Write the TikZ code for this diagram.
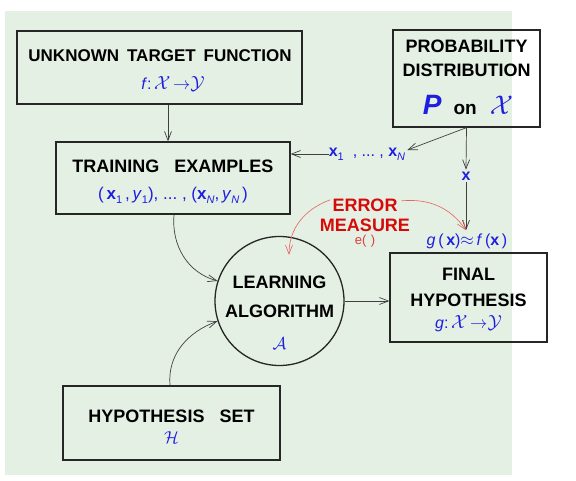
\documentclass[tikz,border=0pt]{standalone}
\usepackage{fontspec}
\setmainfont{Liberation Sans}
\usetikzlibrary{arrows.meta,calc}
\definecolor{bgc}{RGB}{228,240,227}
\definecolor{myblue}{RGB}{30,30,225}
\definecolor{myred}{RGB}{215,10,10}
\definecolor{arcred}{RGB}{232,95,95}
\newcommand{\lowsub}[1]{\raisebox{-4pt}{\fontsize{11}{11}\selectfont #1}}
\newcommand{\bigcal}[2]{\scalebox{#1}{$\mathcal{#2}$}}
\tikzset{
  box/.style={draw=black!85, line width=1.3pt, inner sep=0pt},
  ttl/.style={font=\fontsize{18}{20}\selectfont\bfseries, anchor=base, inner sep=0pt, text=black},
  sub/.style={font=\fontsize{16}{18}\selectfont, anchor=base, inner sep=0pt, text=myblue},
  conn/.style={draw=black!75, line width=0.7pt, -{Straight Barb[length=9pt,width=7pt]}},
  redarc/.style={draw=arcred, line width=0.6pt, -{Straight Barb[length=9pt,width=7pt]}},
}
\begin{document}
\begin{tikzpicture}[x=1pt,y=1pt]
\useasboundingbox (0,0) rectangle (576,480);
\fill[bgc] (5,5) rectangle (512,469);

% boxes
\node[box, minimum width=285pt, minimum height=73pt] (target) at (159.5,412.5) {};
\node[box, minimum width=147pt, minimum height=97pt] (prob) at (466.5,401.5) {};
\node[box, minimum width=234pt, minimum height=72pt] (train) at (173,302) {};
\node[box, minimum width=217pt, minimum height=74pt] (hyp) at (171.5,57) {};
\node[box, minimum width=157pt, minimum height=89pt] (final) at (468.5,182.5) {};
\node[box, circle, minimum size=129pt] (la) at (279.5,179) {};

% texts
\node[ttl, font=\fontsize{17}{20}\selectfont\bfseries] (t1) at (160,418) {UNKNOWN\hspace{8pt}TARGET\hspace{8pt}FUNCTION};
\node[sub] (t2) at (173,390) {\textit{f}:\,\bigcal{1.1}{X}\,$\rightarrow$\bigcal{1.1}{Y}};

\node[ttl] (p1) at (466.5,427) {PROBABILITY};
\node[ttl] (p2) at (466.5,403) {DISTRIBUTION};
\node[anchor=base, inner sep=0pt] (p3) at (468,365) {\textcolor{myblue}{\fontsize{28}{30}\selectfont\bfseries\itshape P}\hspace{12pt}{\fontsize{19}{20}\selectfont\bfseries on}\hspace{13pt}\textcolor{myblue}{\fontsize{10}{12}\selectfont\bigcal{2.7}{X}}};

\node[ttl] (tr1) at (173,307) {TRAINING~~~EXAMPLES};
\node[sub, font=\fontsize{17}{19}\selectfont] (tr2) at (173,280) {(\,\textbf{x}\lowsub{1}\,,\,\textit{y}\lowsub{1}),~...~,~(\textbf{x}\lowsub{\textit{N}},\,\textit{y}\lowsub{\textit{N}}\,)};

\node[ttl] (l1) at (279.5,192) {LEARNING};
\node[ttl] (l2) at (279.5,162) {ALGORITHM};
\node[sub] (l3) at (279.5,131) {\bigcal{1.0}{A}};

\node[ttl] (f1) at (468.5,200) {FINAL};
\node[ttl] (f2) at (468.5,174) {HYPOTHESIS};
\node[sub] (f3) at (468.5,152) {\textit{g}:\,\bigcal{1.1}{X}\,$\rightarrow$\bigcal{1.1}{Y}};

\node[ttl] (h1) at (171.5,58) {HYPOTHESIS~~~SET};
\node[sub] (h2) at (171.5,37) {\bigcal{1.0}{H}};

\node[ttl, text=myred] (e1) at (365,268) {ERROR};
\node[ttl, text=myred] (e2) at (365,248) {MEASURE};
\node[anchor=base, inner sep=0pt, text=myred!80, font=\fontsize{13}{14}\selectfont] (e3) at (365,235) {e(\,\,)};

\node[sub, font=\fontsize{16}{18}\selectfont] (gf) at (467,234) {\textit{g}\,(\,\textbf{x})$\approx$\,\textit{f}\,(\textbf{x}\,)};

\node[sub, font=\fontsize{16}{18}\selectfont, anchor=center] (xs) at (367,326) {\textbf{x}\lowsub{1}~~,~...~,~\textbf{x}\lowsub{\textit{N}}};
\node[sub, font=\fontsize{16}{18}\selectfont\bfseries, anchor=center] (xl) at (466,304) {x};

% connectors
\draw[conn] ([xshift=8.5pt]target.south) -- ([xshift=8.5pt]target.south |- train.north);
\draw[conn] (prob.south) -- ([xshift=2pt,yshift=4pt]xs.east);
\draw[conn] (xs.west) -- (xs.west -| train.east);
\draw[conn] (prob.south) -- ([yshift=2pt]xl.north);
\draw[conn] ([yshift=-2pt]xl.south) -- ([xshift=-1pt,yshift=4pt]gf.north);
\draw[conn] (la.east) -- (la.east -| final.west);
\draw[conn] ([xshift=1pt]train.south) to[out=265,in=165] (la.162);
\draw[conn] ([xshift=-1.5pt]hyp.north) to[out=95,in=200] (la.198);
\coordinate (lt) at ([xshift=9.5pt,yshift=-19pt]la.north);
\draw[redarc] ([xshift=-2pt,yshift=6pt]e1.west) to[out=200,in=90] (lt);
\draw[redarc] ([xshift=4pt,yshift=5pt]e1.east) to[out=5,in=125] ([xshift=-1pt,yshift=4pt]gf.north);
\end{tikzpicture}
\end{document}
